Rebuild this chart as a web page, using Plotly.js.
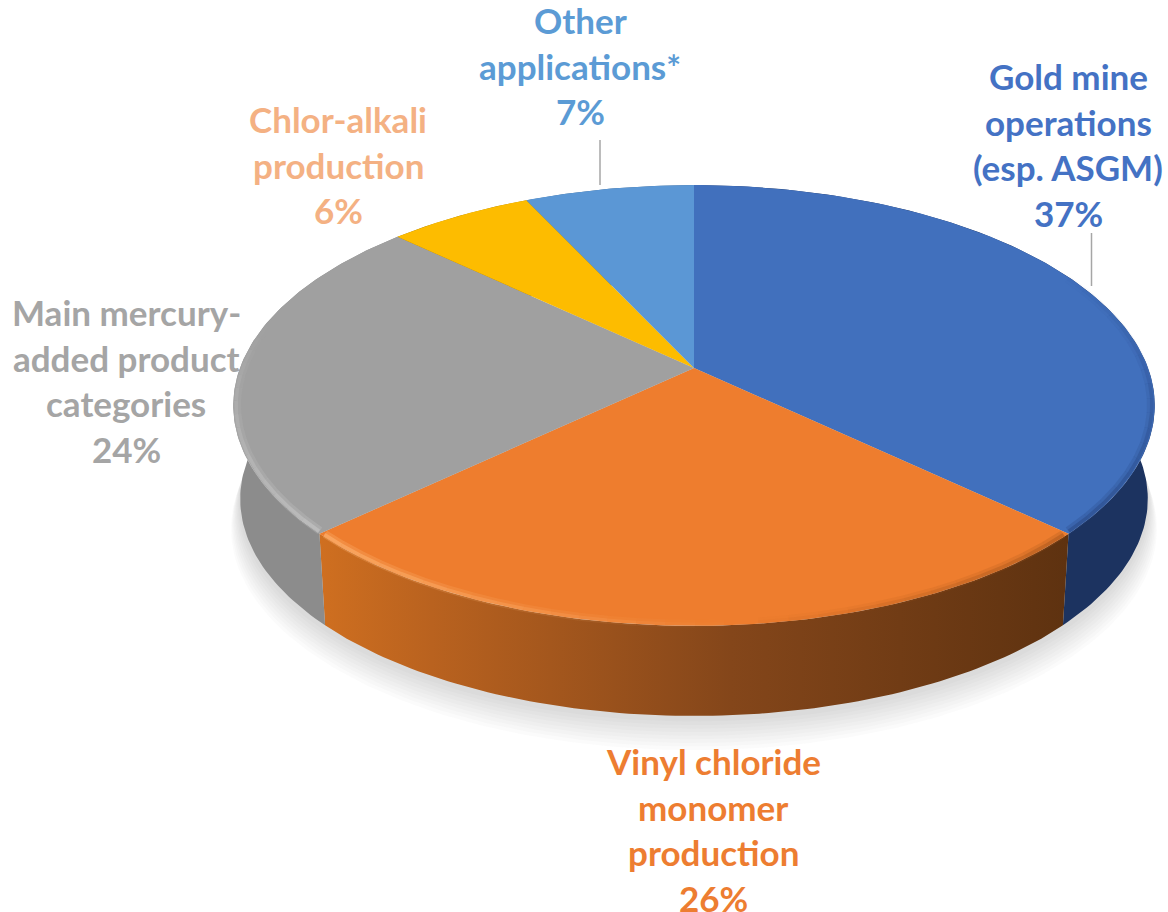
<!DOCTYPE html>
<html><head><meta charset="utf-8">
<script src="https://cdn.plot.ly/plotly-3.0.1.min.js"></script>
<style>html,body{margin:0;padding:0;background:#fff}#c{width:1168px;height:912px}</style>
</head><body><div id="c"></div>
<script>
// ---- data
const categories = ['Gold mine operations (esp. ASGM)','Vinyl chloride monomer production','Main mercury-added product categories','Chlor-alkali production','Other applications*'];
const values = [37, 26, 24, 6, 7];
const labelLines = [['Gold mine','operations','(esp. ASGM)'],['Vinyl chloride','monomer','production'],['Main mercury-','added product','categories'],['Chlor-alkali','production'],['Other','applications*']];
// ---- styles
const faceColors = ['#4170bd','#ee7d2e','#a0a0a0','#fdbc00','#5b97d5'];
const textColors = ['#4472c4','#ed7d31','#a5a5a5','#f4b183','#5b9bd5'];
const wallScales = [
  [[0,'#1c3360'],[1,'#1c3360']],
  [[0,'#cf6f20'],[0.15,'#b9621f'],[0.55,'#84461a'],[1,'#5e3210']],
  [[0,'#8c8c8c'],[1,'#8c8c8c']],
  [[0,'#a67c00'],[1,'#a67c00']],
  [[0,'#3a6590'],[1,'#3a6590']]
];
const labelCenterX = [1068, 713, 126, 338, 580];
const labelTopY = [76, 761, 312, 119, 20];
const lineGap = 45.7;
const leaderX = [1091.5, 600], leaderY = [[233,286],[140,185]];
// ---- perspective projection of the disc
const apexX = 694, apexY = 368, R = 454, S = 214, K = 0.17, DEPTH = 94;
function proj(deg, scale, dy){
  const t = deg*Math.PI/180, u = Math.sin(t), v = Math.cos(t), d = 1 + K*v;
  return [apexX + scale*R*u/d, apexY + dy - scale*S*v/d];
}
function arc(a, b, scale, dy){
  const pts = [], n = Math.max(2, Math.ceil(Math.abs(b-a)));
  for(let i=0;i<=n;i++) pts.push(proj(a+(b-a)*i/n, scale, dy));
  return pts;
}
const poly = (pts, extra) => Object.assign({x:pts.map(p=>p[0]), y:pts.map(p=>p[1]), mode:'lines', hoverinfo:'skip', showlegend:false}, extra);
const total = values.reduce((a,b)=>a+b,0);
let acc = 0;
const bounds = values.map(v=>{const a=acc/total*360; acc+=v; return [a, acc/total*360];});
const traces = [];
// soft shadow
for(let i=1;i<=9;i++){
  traces.push(poly(arc(0,360,0.985+0.0022*i,DEPTH+2+3*i),{fill:'toself',fillcolor:'rgba(110,110,125,0.028)',line:{width:0}}));
}
// walls
bounds.forEach((b,i)=>{
  const pts = arc(b[0],b[1],1,0).concat(arc(b[1],b[0],0.985,DEPTH));
  const xs = pts.map(p=>p[0]);
  traces.push(poly(pts,{fill:'toself',line:{width:0},fillcolor:wallScales[i][0][1],
    fillgradient:{type:'horizontal',colorscale:wallScales[i],start:Math.min(...xs),stop:Math.max(...xs)}}));
});
// top faces
bounds.forEach((b,i)=>{
  const pts = [[apexX,apexY]].concat(arc(b[0],b[1],1,0));
  pts.push([apexX,apexY]);
  traces.push(poly(pts,{fill:'toself',fillcolor:faceColors[i],line:{width:0}}));
});
// rim bevel: soft band of tapering strokes along the rim
function bevel(from, to, steps, rgb, peak){
  for(let s=0;s<steps;s++){
    const a = from+(to-from)*s/steps, b = from+(to-from)*(s+1)/steps;
    const f = peak*(1-s/steps);
    traces.push(poly(arc(a,b,0.992,0),{line:{width:8,color:`rgba(${rgb},${(f*0.3).toFixed(3)})`}}));
    traces.push(poly(arc(a,b,0.994,0),{line:{width:3.5,color:`rgba(${rgb},${(f*0.55).toFixed(3)})`}}));
  }
}
bevel(bounds[1][1]-0.5, bounds[1][1]-50, 16, '255,185,120', 0.95);
bevel(bounds[2][0]+0.5, bounds[2][0]+55, 16, '205,205,205', 0.85);
bevel(bounds[1][0]+0.5, bounds[1][0]+40, 12, '170,88,30', 0.9);
bevel(bounds[0][1]-0.5, bounds[0][1]-70, 18, '40,70,130', 0.9);
// leader lines
leaderX.forEach((x,i)=>traces.push({x:[x,x],y:leaderY[i],mode:'lines',hoverinfo:'skip',showlegend:false,line:{width:1.5,color:'#a6a6a6'}}));
// labels
const annotations = [];
categories.forEach((c,i)=>{
  labelLines[i].concat([values[i]+'%']).forEach((t,j)=>{
    annotations.push({x:labelCenterX[i],y:labelTopY[i]+j*lineGap,xref:'x',yref:'y',text:t,showarrow:false,xanchor:'center',yanchor:'middle',
      font:{family:'Lato, sans-serif',size:35,color:textColors[i],weight:700}});
  });
});
Plotly.newPlot('c',traces,{
  width:1168,height:912,margin:{l:0,r:0,t:0,b:0},paper_bgcolor:'#fff',plot_bgcolor:'#fff',showlegend:false,
  xaxis:{range:[0,1168],visible:false,fixedrange:true},
  yaxis:{range:[912,0],visible:false,fixedrange:true},
  annotations:annotations
},{displayModeBar:false,staticPlot:true});
</script></body></html>
